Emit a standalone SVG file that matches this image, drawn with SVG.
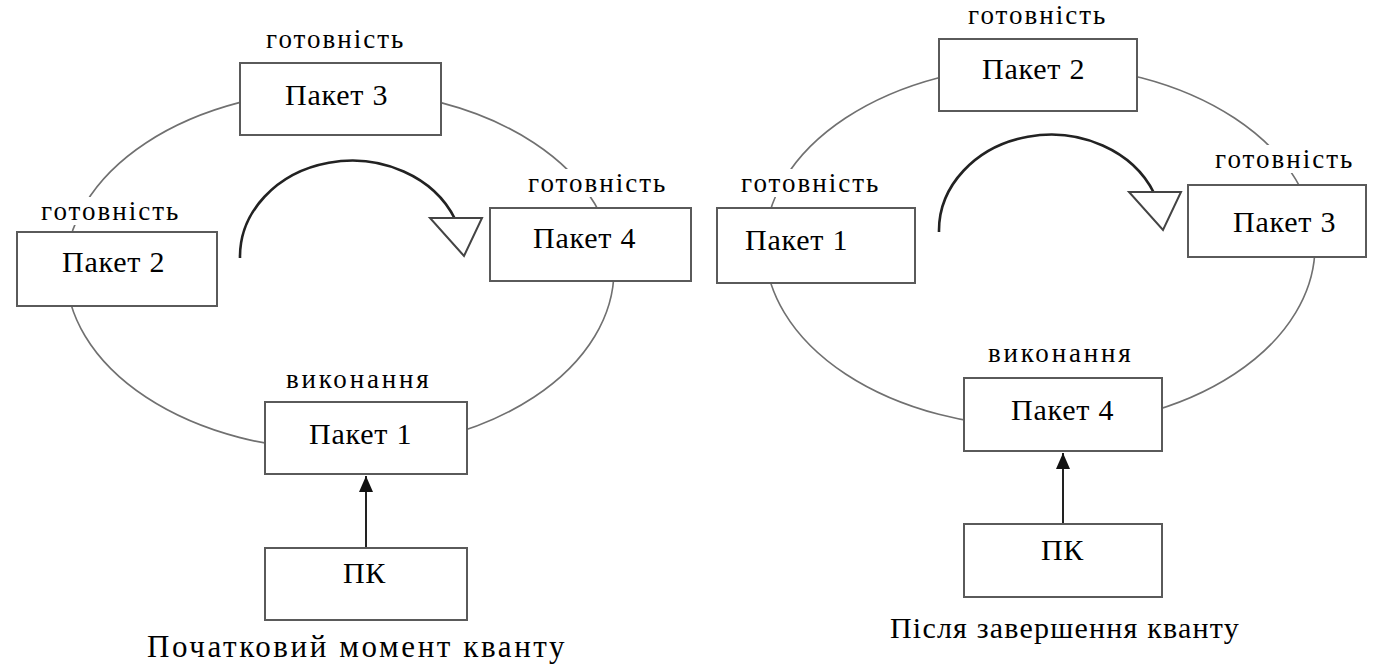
<svg xmlns="http://www.w3.org/2000/svg" width="1376" height="664" viewBox="0 0 1376 664">
<style>
.bg{fill:#ffffff}
.box{fill:#ffffff;stroke:#5a5a5a;stroke-width:2}
.ring{fill:none;stroke:#707070;stroke-width:1.6}
.turn{fill:none;stroke:#222222;stroke-width:2.6}
.tri{fill:#ffffff;stroke:#444444;stroke-width:2}
.arrow{fill:none;stroke:#222222;stroke-width:2}
.lblbg{fill:#ffffff}
</style>
<defs>
<marker id="ah" markerUnits="userSpaceOnUse" markerWidth="17" markerHeight="15" refX="16" refY="7" orient="auto">
<path d="M0,0 L16,7 L0,14 z" fill="#111111"/>
</marker>
</defs>
<rect class="bg" x="0" y="0" width="1376" height="664"/>

<g id="connectors">
<ellipse class="ring" cx="340" cy="270" rx="274" ry="180"/>
<ellipse class="ring" cx="1040" cy="246" rx="275" ry="181"/>
<path class="turn" d="M 240 258 A 112 96 0 0 1 455 219"/>
<path class="tri" d="M 430 218 L 482 218 L 464 256 Z"/>
<path class="turn" d="M 939 232 A 112 96 0 0 1 1154 193"/>
<path class="tri" d="M 1129 192 L 1181 192 L 1163 230 Z"/>
<line class="arrow" x1="366" y1="548" x2="366" y2="476" marker-end="url(#ah)"/>
<line class="arrow" x1="1063" y1="524" x2="1063" y2="453" marker-end="url(#ah)"/>
</g>

<g id="left-packet3">
<rect class="lblbg" x="263" y="25" width="147" height="28"/>
<text x="266" y="48" font-family="Liberation Serif" font-size="27" letter-spacing="2">готовність</text>
<rect class="box" x="240" y="63" width="201" height="72"/>
<text x="285" y="105" font-family="Liberation Serif" font-size="30" letter-spacing="0.8">Пакет 3</text>
</g>

<g id="left-packet2">
<rect class="lblbg" x="38" y="197" width="147" height="28"/>
<text x="41" y="220" font-family="Liberation Serif" font-size="27" letter-spacing="2">готовність</text>
<rect class="box" x="17" y="232" width="200" height="74"/>
<text x="62" y="272" font-family="Liberation Serif" font-size="30" letter-spacing="0.8">Пакет 2</text>
</g>

<g id="left-packet4">
<rect class="lblbg" x="525" y="169" width="148" height="28"/>
<text x="528" y="192" font-family="Liberation Serif" font-size="27" letter-spacing="2">готовність</text>
<rect class="box" x="490" y="208" width="201" height="73"/>
<text x="533" y="248" font-family="Liberation Serif" font-size="30" letter-spacing="0.8">Пакет 4</text>
</g>

<g id="left-packet1">
<rect class="lblbg" x="283" y="365" width="152" height="28"/>
<text x="286" y="388" font-family="Liberation Serif" font-size="27" letter-spacing="2.8">виконання</text>
<rect class="box" x="265" y="402" width="202" height="72"/>
<text x="309" y="444" font-family="Liberation Serif" font-size="30" letter-spacing="0.8">Пакет 1</text>
</g>

<g id="left-pk">
<rect class="box" x="265" y="548" width="202" height="72"/>
<text x="343" y="583" font-family="Liberation Serif" font-size="30" letter-spacing="0.5">ПК</text>
</g>

<g id="left-caption">
<text x="147" y="657" font-family="Liberation Serif" font-size="31" letter-spacing="2.6">Початковий момент кванту</text>
</g>

<g id="right-packet2">
<rect class="lblbg" x="965" y="1" width="146" height="28"/>
<text x="968" y="24" font-family="Liberation Serif" font-size="27" letter-spacing="2">готовність</text>
<rect class="box" x="939" y="39" width="198" height="72"/>
<text x="982" y="79" font-family="Liberation Serif" font-size="30" letter-spacing="0.8">Пакет 2</text>
</g>

<g id="right-packet1">
<rect class="lblbg" x="738" y="169" width="147" height="28"/>
<text x="741" y="192" font-family="Liberation Serif" font-size="27" letter-spacing="2">готовність</text>
<rect class="box" x="717" y="208" width="198" height="75"/>
<text x="745" y="250" font-family="Liberation Serif" font-size="30" letter-spacing="0.8">Пакет 1</text>
</g>

<g id="right-packet3">
<rect class="lblbg" x="1212" y="145" width="148" height="28"/>
<text x="1215" y="168" font-family="Liberation Serif" font-size="27" letter-spacing="2">готовність</text>
<rect class="box" x="1188" y="185" width="178" height="72"/>
<text x="1233" y="232" font-family="Liberation Serif" font-size="30" letter-spacing="0.8">Пакет 3</text>
</g>

<g id="right-packet4">
<rect class="lblbg" x="985" y="339" width="151" height="28"/>
<text x="988" y="362" font-family="Liberation Serif" font-size="27" letter-spacing="2.8">виконання</text>
<rect class="box" x="964" y="378" width="198" height="73"/>
<text x="1011" y="420" font-family="Liberation Serif" font-size="30" letter-spacing="0.8">Пакет 4</text>
</g>

<g id="right-pk">
<rect class="box" x="964" y="524" width="198" height="73"/>
<text x="1041" y="560" font-family="Liberation Serif" font-size="30" letter-spacing="0.5">ПК</text>
</g>

<g id="right-caption">
<text x="890" y="638" font-family="Liberation Serif" font-size="30" letter-spacing="1.2">Після завершення кванту</text>
</g>
</svg>
